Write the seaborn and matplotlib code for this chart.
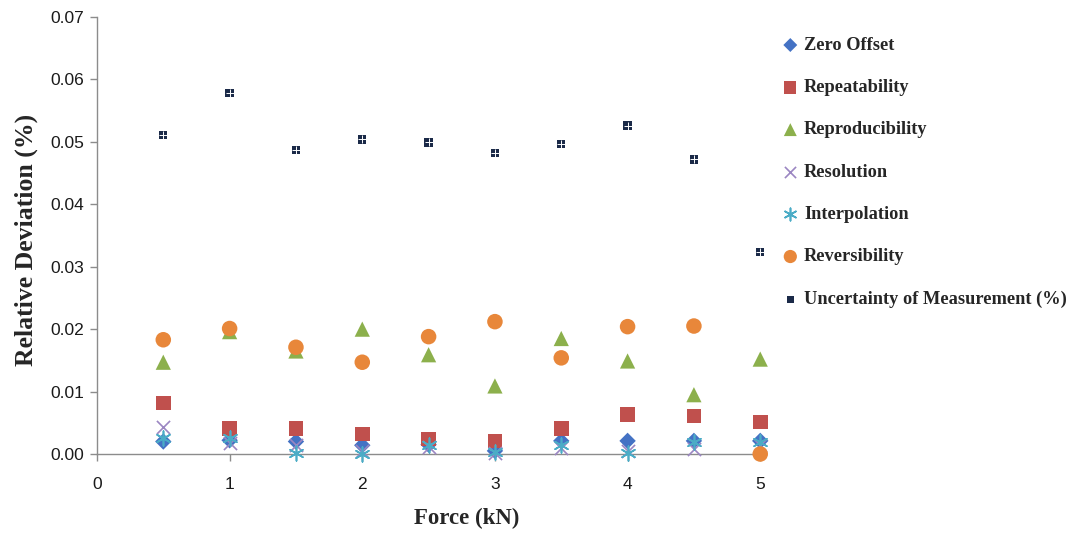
import matplotlib
matplotlib.use("Agg")
import matplotlib.pyplot as plt
import seaborn as sns
import pandas as pd

force = [0.5, 1.0, 1.5, 2.0, 2.5, 3.0, 3.5, 4.0, 4.5, 5.0]

zero_offset = [0.0020, 0.0022, 0.0020, 0.0014, 0.0015, 0.0005, 0.0021, 0.0021, 0.0021, 0.0021]
repeatability = [0.0082, 0.0041, 0.0041, 0.0032, 0.0024, 0.0021, 0.0041, 0.0063, 0.0061, 0.0051]
reproducibility = [0.0147, 0.0196, 0.0165, 0.0200, 0.0159, 0.0109, 0.0185, 0.0149, 0.0095, 0.0152]
resolution = [0.0044, 0.0018, 0.0015, 0.0005, 0.0012, 0.0002, 0.0010, 0.0005, 0.0008, 0.0015]
interpolation = [0.0025, 0.0025, 0.0001, 0.0000, 0.0015, 0.0003, 0.0015, 0.0001, 0.0020, 0.0020]
reversibility = [0.0183, 0.0201, 0.0171, 0.0147, 0.0188, 0.0212, 0.0154, 0.0204, 0.0205, 0.0000]
uncertainty = [0.0511, 0.0578, 0.0487, 0.0504, 0.0499, 0.0482, 0.0497, 0.0526, 0.0472, 0.0324]

series_names = ["Zero Offset", "Repeatability", "Reproducibility", "Resolution",
                "Interpolation", "Reversibility", "Uncertainty of Measurement (%)"]
series_values = [zero_offset, repeatability, reproducibility, resolution,
                 interpolation, reversibility, uncertainty]

x_ticks = [0, 1, 2, 3, 4, 5]
y_ticks = [0.00, 0.01, 0.02, 0.03, 0.04, 0.05, 0.06, 0.07]

styles = {
    "Zero Offset": dict(marker="D", color="#4472C4", s=70, linewidth=0),
    "Repeatability": dict(marker="s", color="#C0504D", s=110, linewidth=0),
    "Reproducibility": dict(marker="^", color="#8CB04C", s=120, linewidth=0),
    "Resolution": dict(marker="x", color="#9B86C2", s=90, linewidth=1.2),
    "Interpolation": dict(marker=(6, 2, 0), color="#4BACC6", s=110, linewidth=1.2),
    "Reversibility": dict(marker="o", color="#E8873A", s=125, linewidth=0),
    "Uncertainty of Measurement (%)": dict(marker="s", color="#1B2A48", s=36, linewidth=0),
}

sns.set_style("white")
plt.rcParams["font.family"] = ["Liberation Sans", "DejaVu Sans"]

fig = plt.figure(figsize=(10.75, 5.35), dpi=100)
ax = fig.add_axes([0.0902, 0.1514, 0.617, 0.8168])

frames = []
for name, vals in zip(series_names, series_values):
    frames.append(pd.DataFrame({"Force": force, "Value": vals, "Series": name}))
df = pd.concat(frames, ignore_index=True)

handles = []
for name in series_names:
    sub = df[df["Series"] == name]
    st = styles[name]
    sns.scatterplot(data=sub, x="Force", y="Value", ax=ax, marker=st["marker"],
                    color=st["color"], s=st["s"], linewidth=st["linewidth"],
                    edgecolor=st["color"] if st["linewidth"] else "none",
                    clip_on=False, legend=False, zorder=3)
    handles.append(ax.collections[-1])

# white cross inside the uncertainty squares
unc = df[df["Series"] == "Uncertainty of Measurement (%)"]
ax.scatter(unc["Force"], unc["Value"], marker="+", s=36, color="white",
           linewidths=0.7, clip_on=False, zorder=4)

ax.set_xlim(0, 5)
ax.set_ylim(0, 0.07)
ax.set_xticks(x_ticks)
ax.set_yticks(y_ticks)
ax.set_yticklabels([f"{v:.2f}" for v in y_ticks])
ax.set_xticklabels([str(v) for v in x_ticks])

for side in ["top", "right"]:
    ax.spines[side].set_visible(False)
for side in ["left", "bottom"]:
    ax.spines[side].set_color("#8C8C8C")
    ax.spines[side].set_linewidth(1.0)
ax.tick_params(axis="both", direction="out", length=5, width=1.0, color="#8C8C8C",
               labelsize=12.5, labelcolor="#1A1A1A", left=True, bottom=True)
ax.tick_params(axis="y", pad=4.5)
ax.tick_params(axis="x", pad=11.5)
ax.grid(False)

serif = ["Liberation Serif", "DejaVu Serif"]
ax.set_xlabel("Force (kN)", fontdict=dict(family=serif, weight="bold", size=16.5))
ax.xaxis.set_label_coords(0.557, -0.124)
ax.set_ylabel("Relative Deviation (%)", fontdict=dict(family=serif, weight="bold", size=18.5))
ax.yaxis.set_label_coords(-0.089, 0.49)

leg = fig.legend(handles, series_names, loc="upper left", bbox_to_anchor=(0.713, 0.962),
                 frameon=False, handletextpad=0.35, handlelength=0.8,
                 labelspacing=1.38, markerscale=0.85,
                 prop=dict(family=serif, weight="bold", size=13.2))

fig.savefig("out.png", dpi=100, facecolor="white")
